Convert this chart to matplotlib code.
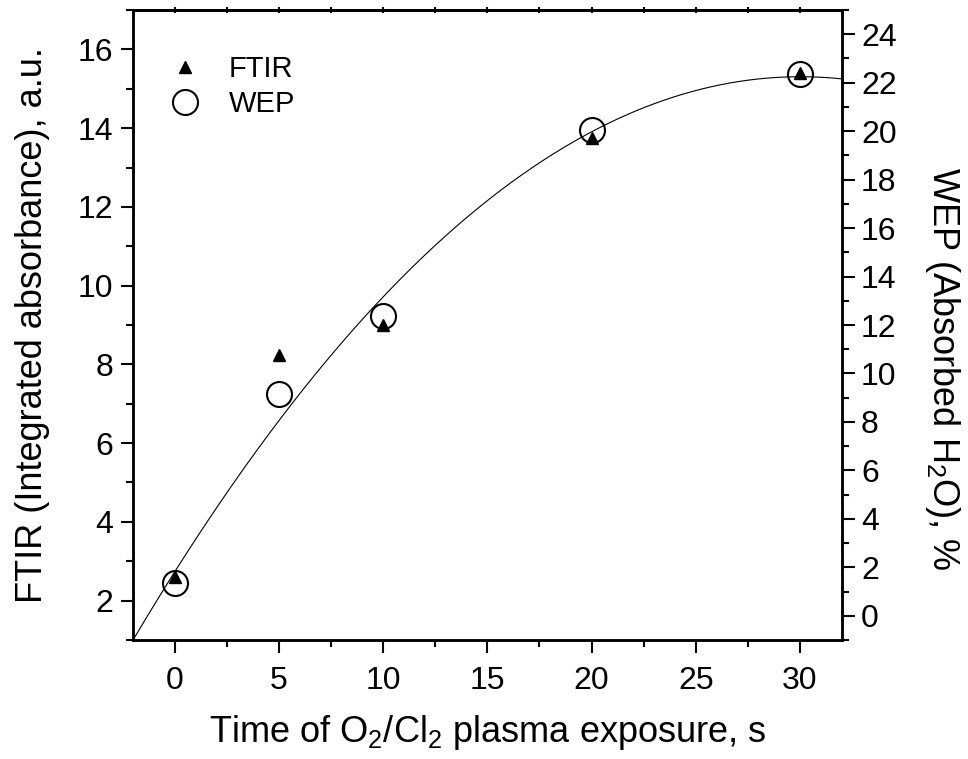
import numpy as np
import matplotlib
matplotlib.use("Agg")
import matplotlib.pyplot as plt
from matplotlib.ticker import MultipleLocator

plt.rcParams['font.family'] = ['Liberation Sans', 'DejaVu Sans']
plt.rcParams['mathtext.fontset'] = 'custom'
plt.rcParams['mathtext.rm'] = 'Liberation Sans'
plt.rcParams['mathtext.it'] = 'Liberation Sans'

# data
time_s = [0, 5, 10, 20, 30]
ftir = [2.6, 8.25, 9.0, 13.75, 15.4]          # left axis, a.u.
wep = [1.36, 9.16, 12.37, 20.06, 22.35]        # right axis, %
# quadratic fit drawn on the left axis (c2, c1, c0)
fit_coef = [-0.01396, 0.838, 2.73]

fig = plt.figure(figsize=(9.68, 7.59), dpi=100)
ax = fig.add_axes([0.1374, 0.1568, 0.7321, 0.83])
ax2 = ax.twinx()

xfit = np.linspace(-2, 32, 300)
ax.plot(xfit, np.polyval(fit_coef, xfit), color='black', lw=0.8)
h1, = ax.plot(time_s, ftir, linestyle='none', marker='^', color='black', markersize=9, label='FTIR')
h2, = ax2.plot(time_s, wep, linestyle='none', marker='o', markerfacecolor='none',
               markeredgecolor='black', markeredgewidth=1.5, markersize=18, label='WEP')

ax.set_xlim(-2, 32)
ax.set_ylim(1, 17)
ax2.set_ylim(-1, 25)

ax.xaxis.set_major_locator(MultipleLocator(5))
ax.xaxis.set_minor_locator(MultipleLocator(2.5))
ax.yaxis.set_major_locator(MultipleLocator(2))
ax.yaxis.set_minor_locator(MultipleLocator(1))
ax2.yaxis.set_major_locator(MultipleLocator(2))
ax2.yaxis.set_minor_locator(MultipleLocator(1))

for a in (ax, ax2):
    for s in a.spines.values():
        s.set_linewidth(1.8)
ax.tick_params(axis='both', which='major', direction='out', length=9, width=1.5, labelsize=23, pad=5)
ax.tick_params(axis='x', which='major', pad=10)
ax.tick_params(axis='both', which='minor', direction='out', length=5, width=1.5)
ax2.tick_params(axis='y', which='major', direction='out', length=9, width=1.5, labelsize=23, pad=5)
ax2.tick_params(axis='y', which='minor', direction='out', length=5, width=1.5)

# small tick marks on the top spine
secx = ax.secondary_xaxis('top')
secx.xaxis.set_major_locator(MultipleLocator(2.5))
secx.tick_params(direction='inout', length=4, width=1.5, labeltop=False)
secx.spines['top'].set_linewidth(1.8)

ax.set_xlabel('Time of O$_2$/Cl$_2$ plasma exposure, s', fontsize=26, labelpad=12)
ax.set_ylabel('FTIR (Integrated absorbance), a.u.', fontsize=26, labelpad=20)
ax2.set_ylabel('WEP (Absorbed H$_2$O), %', fontsize=26, rotation=270)
ax2.yaxis.set_label_coords(1.17, 0.43)

ax.legend(handles=[h1, h2], loc='upper left', bbox_to_anchor=(-0.005, 0.97), frameon=False,
          fontsize=21, handletextpad=0.5, labelspacing=0.25, markerscale=1.0)

fig.savefig('out.png', dpi=100)
